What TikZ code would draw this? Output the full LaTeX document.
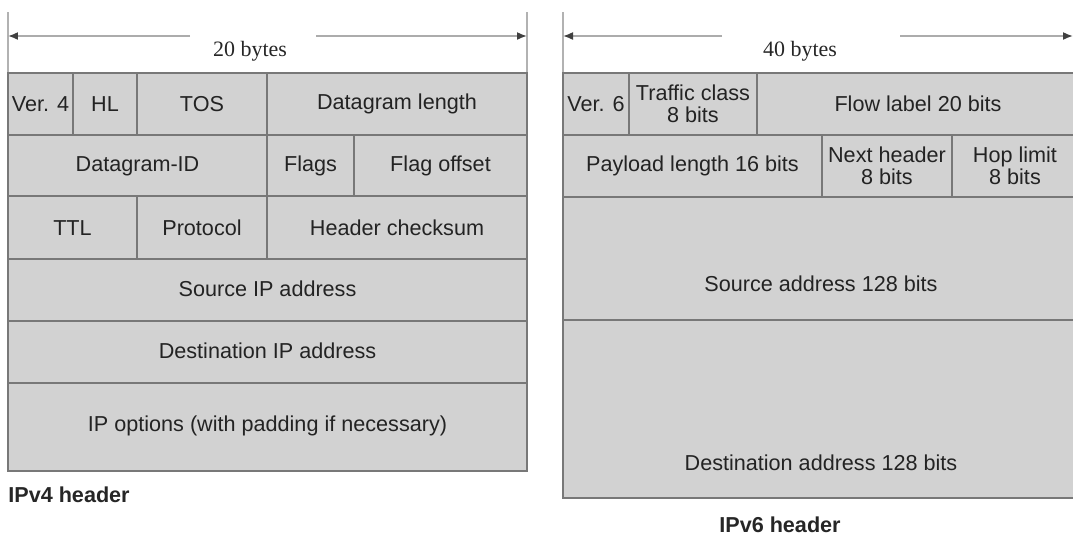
\documentclass[tikz,border=0pt]{standalone}
\usepackage{fontspec}
\setmainfont{Liberation Serif}
\setsansfont{Liberation Sans}
\usepackage{xcolor}
\usetikzlibrary{arrows.meta}
\definecolor{cellfill}{RGB}{210,210,210}
\definecolor{cellline}{RGB}{120,120,120}
\definecolor{fieldtext}{RGB}{35,35,35}
\tikzset{
  cell/.style={fill=cellfill,draw=cellline,line width=1pt},
  field/.style={font=\sffamily\fontsize{12.3}{12.5}\selectfont,text=fieldtext,
    align=center,inner sep=0pt},
  caption/.style={font=\sffamily\bfseries\fontsize{12.3}{14}\selectfont,text=black!85,inner sep=0pt},
  width/.style={font=\rmfamily\fontsize{12.5}{14}\selectfont,text=black!85,inner sep=0pt,anchor=base},
  span/.style={draw=gray!65,line width=0.9pt,-{Latex[length=2mm,width=1.6mm,fill=black!75,color=black!75]}},
  guide/.style={draw=gray!60,line width=0.7pt}
}

\begin{document}
\begin{tikzpicture}[x=0.02cm,y=-0.02cm]
  \useasboundingbox (0,0) rectangle (1073,538);
  \clip (0,0) rectangle (1073,538);

  % IPv4 header
  \draw[guide](8,12)--(8,73);
  \draw[guide](527,12)--(527,73);
  \node[width] (bytes4) at (250,56) {20 bytes};
  \coordinate (v4a) at (190,36);
  \coordinate (v4b) at (316,36);
  \coordinate (v4west) at (8,36);
  \coordinate (v4east) at (527,36);
  \draw[span](v4a)--(v4west);
  \draw[span](v4b)--(v4east);

  \draw[cell](8,73)rectangle(73,135);
  \draw[cell](73,73)rectangle(137,135);
  \draw[cell](137,73)rectangle(267,135);
  \draw[cell](267,73)rectangle(527,135);
  \draw[cell](8,135)rectangle(267,196);
  \draw[cell](267,135)rectangle(354,196);
  \draw[cell](354,135)rectangle(527,196);
  \draw[cell](8,196)rectangle(137,259);
  \draw[cell](137,196)rectangle(267,259);
  \draw[cell](267,196)rectangle(527,259);
  \draw[cell](8,259)rectangle(527,321);
  \draw[cell](8,321)rectangle(527,383);
  \draw[cell](8,383)rectangle(527,471);

  \node[field] (ver4) at (40.5,104) {Ver. 4};
  \node[field] (hl) at (105,104) {HL};
  \node[field] (tos) at (202,104) {TOS};
  \node[field] (dglen) at (397,104) {Datagram length};
  \node[field] (dgid) at (137.5,166) {Datagram-ID};
  \node[field] (flags) at (310.5,166) {Flags};
  \node[field] (flagoff) at (440.5,166) {Flag offset};
  \node[field] (ttl) at (72.5,228) {TTL};
  \node[field] (proto) at (202,228) {Protocol};
  \node[field] (hcheck) at (397,228) {Header checksum};
  \node[field] (srcip) at (267.5,289) {Source IP address};
  \node[field] (dstip) at (267.5,351) {Destination IP address};
  \node[field] (ipopt) at (267.5,426) {IP options (with padding if necessary)};
  \node[caption,anchor=base west] (cap4) at (8,502) {IPv4 header};

  % IPv6 header
  \draw[guide](563,12)--(563,73);
  \node[width] (bytes6) at (800,56) {40 bytes};
  \coordinate (v6a) at (722,36);
  \coordinate (v6b) at (900,36);
  \coordinate (v6west) at (563,36);
  \coordinate (v6east) at (1073,36);
  \draw[span](v6a)--(v6west);
  \draw[span](v6b)--(v6east);

  \draw[cell](563,73)rectangle(629,135);
  \draw[cell](629,73)rectangle(757,135);
  \draw[cell](757,73)rectangle(1079,135);
  \draw[cell](563,135)rectangle(822,197);
  \draw[cell](822,135)rectangle(952,197);
  \draw[cell](952,135)rectangle(1079,197);
  \draw[cell](563,197)rectangle(1079,320);
  \draw[cell](563,320)rectangle(1079,498);

  \node[field] (ver6) at (596,104) {Ver. 6};
  \node[field] (tclass) at (693,104) {Traffic class\\8 bits};
  \node[field] (flow) at (918,104) {Flow label 20 bits};
  \node[field] (paylen) at (692.5,166) {Payload length 16 bits};
  \node[field] (nexthdr) at (887,166) {Next header\\8 bits};
  \node[field] (hoplim) at (1015,166) {Hop limit\\8 bits};
  \node[field] (src6) at (821,284) {Source address 128 bits};
  \node[field] (dst6) at (821,463) {Destination address 128 bits};
  \node[caption,anchor=base] (cap6) at (780,532) {IPv6 header};
\end{tikzpicture}
\end{document}
